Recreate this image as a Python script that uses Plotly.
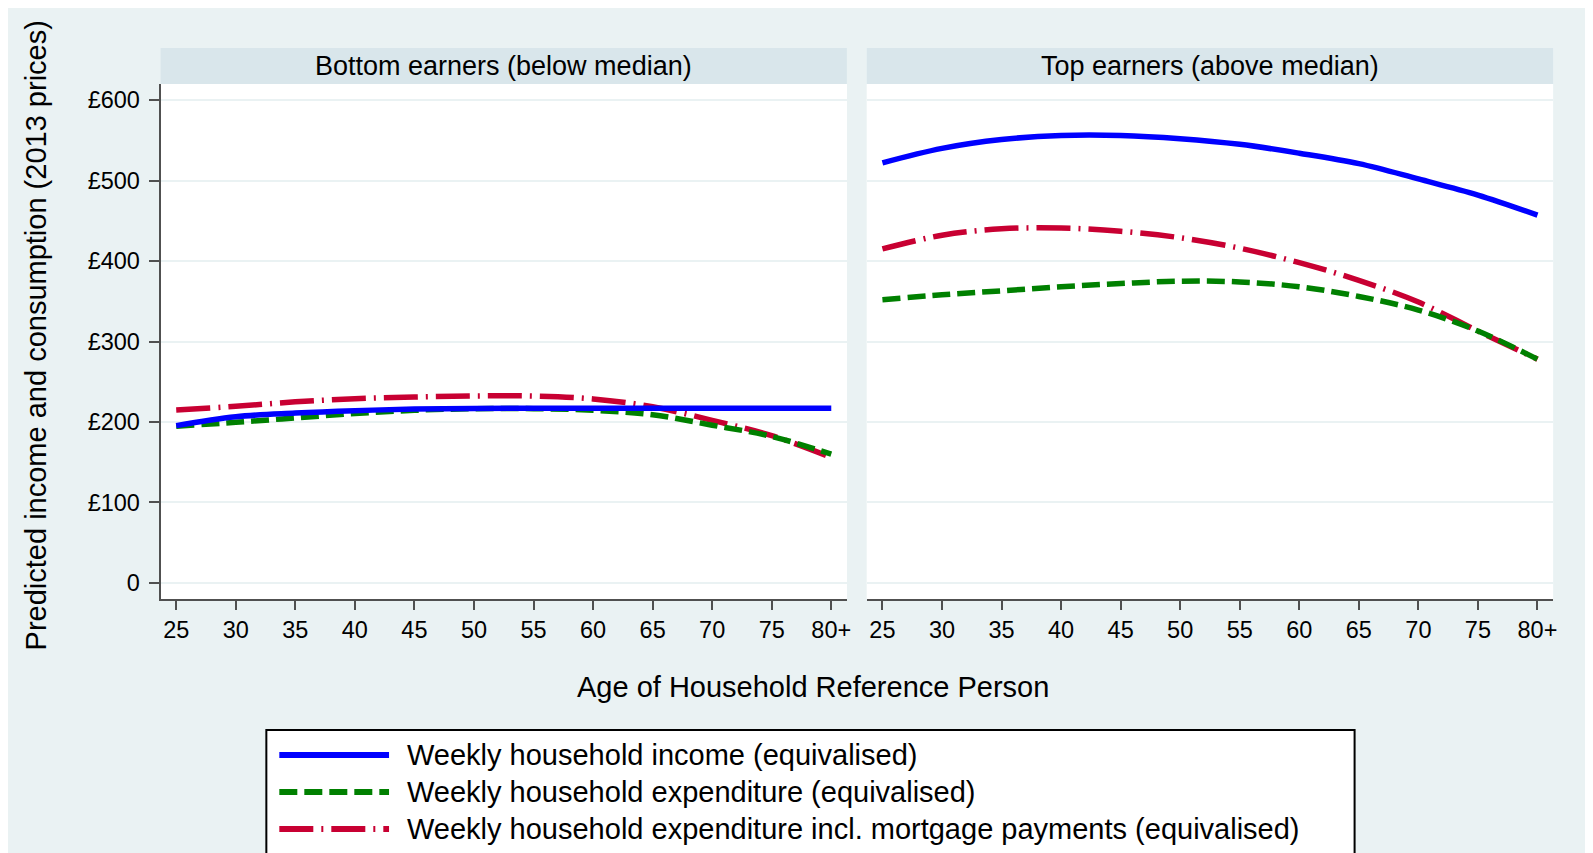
import plotly.graph_objects as go

# ---------------- data ----------------
ages = [25, 30, 35, 40, 45, 50, 55, 60, 65, 70, 75, 80]
age_labels = ["25", "30", "35", "40", "45", "50", "55", "60", "65", "70", "75", "80+"]
panel_titles = ["Bottom earners (below median)", "Top earners (above median)"]
series_names = [
    "Weekly household income (equivalised)",
    "Weekly household expenditure (equivalised)",
    "Weekly household expenditure incl. mortgage payments (equivalised)",
]
y_tickvals = [0, 100, 200, 300, 400, 500, 600]
y_ticktext = ["0", "£100", "£200", "£300", "£400", "£500", "£600"]

bottom_income = [195.5, 206.5, 211, 214, 216, 216.8, 217, 217, 217, 217, 217, 217]
bottom_expenditure = [194.6, 199.6, 205, 210.5, 214.5, 216.5, 216.5, 214.5, 209, 196, 182, 160]
bottom_exp_mortgage = [215, 219.5, 225, 229, 231, 232.3, 232.3, 228.6, 219, 202, 183, 156]

top_income = [522, 540, 551, 556, 556, 552, 545, 534, 521, 502, 482, 457]
top_expenditure = [352, 358, 363, 368, 372, 375, 374, 368, 356, 339, 313, 278]
top_exp_mortgage = [415, 432, 440, 441, 437, 429, 416, 398, 376, 349, 313, 278]

# ---------------- style ----------------
PAGE_W, PAGE_H = 1593, 853
OFF = 8  # default page body margin
W, H = PAGE_W - OFF, PAGE_H - OFF
FONT = "Liberation Sans, Arial, sans-serif"
BG = "#EAF2F3"
STRIP = "#D9E6EB"
AXIS = "#505050"
colors = ["#0000FF", "#008000", "#C80032"]
dashes = ["solid", "18px,7px", "34px,8px,2px,8px"]


def px(x):
    """page pixel x -> paper fraction"""
    return (x - OFF) / W


def py(y):
    """page pixel y -> paper fraction"""
    return 1 - (y - OFF) / H


xdom1 = [px(161), px(849)]
xdom2 = [px(869), px(1557)]
ydom = [py(599), py(84)]

fig = go.Figure()

panel_data = [
    (bottom_income, bottom_expenditure, bottom_exp_mortgage),
    (top_income, top_expenditure, top_exp_mortgage),
]
for p, series in enumerate(panel_data):
    xa = "x" if p == 0 else "x2"
    ya = "y" if p == 0 else "y2"
    for k in [2, 1, 0]:
        fig.add_trace(go.Scatter(
            x=ages, y=series[k], mode="lines", name=series_names[k],
            line=dict(color=colors[k], width=5.5, dash=dashes[k], shape="spline", smoothing=1.0),
            xaxis=xa, yaxis=ya, showlegend=False, hoverinfo="skip",
        ))

xaxis_common = dict(
    range=[23.69, 81.31], tickmode="array", tickvals=ages, ticktext=age_labels,
    ticks="outside", ticklen=9, tickwidth=2, tickcolor=AXIS,
    showline=True, linecolor=AXIS, linewidth=2, showgrid=False, zeroline=False,
    tickfont=dict(family=FONT, size=23.5, color="black"), fixedrange=True,
)
yaxis_common = dict(
    range=[-20, 620], tickmode="array", tickvals=y_tickvals, ticktext=y_ticktext,
    showgrid=True, gridcolor=BG, gridwidth=2, zeroline=False, domain=ydom,
    fixedrange=True,
)

shapes = [
    # plot regions
    dict(type="rect", xref="paper", yref="paper", x0=xdom1[0], x1=xdom1[1], y0=ydom[0], y1=ydom[1],
         fillcolor="white", line=dict(width=0), layer="below"),
    dict(type="rect", xref="paper", yref="paper", x0=xdom2[0], x1=xdom2[1], y0=ydom[0], y1=ydom[1],
         fillcolor="white", line=dict(width=0), layer="below"),
    # strips
    dict(type="rect", xref="paper", yref="paper", x0=xdom1[0], x1=xdom1[1], y0=py(84), y1=py(48),
         fillcolor=STRIP, line=dict(width=0), layer="below"),
    dict(type="rect", xref="paper", yref="paper", x0=xdom2[0], x1=xdom2[1], y0=py(84), y1=py(48),
         fillcolor=STRIP, line=dict(width=0), layer="below"),
    # legend box
    dict(type="rect", xref="paper", yref="paper", x0=px(267), x1=px(1358), y0=py(870), y1=py(730),
         fillcolor="white", line=dict(width=2, color="black"), layer="below"),
]

annotations = []
for p, title in enumerate(panel_titles):
    dom = xdom1 if p == 0 else xdom2
    annotations.append(dict(
        text=title, xref="paper", yref="paper", x=(dom[0] + dom[1]) / 2, y=py(66),
        xanchor="center", yanchor="middle", showarrow=False,
        font=dict(family=FONT, size=27, color="black"),
    ))

annotations.append(dict(
    text="Age of Household Reference Person", xref="paper", yref="paper",
    x=px(815.5), y=py(687), xanchor="center", yanchor="middle", showarrow=False,
    font=dict(family=FONT, size=29, color="black"),
))
annotations.append(dict(
    text="Predicted income and consumption (2013 prices)", xref="paper", yref="paper",
    x=px(36.5), y=py(335), xanchor="center", yanchor="middle", showarrow=False, textangle=-90,
    font=dict(family=FONT, size=29, color="black"),
))

legend_rows = [755, 792, 829]
for k in range(3):
    shapes.append(dict(
        type="line", xref="paper", yref="paper", x0=px(280), x1=px(390),
        y0=py(legend_rows[k]), y1=py(legend_rows[k]),
        line=dict(color=colors[k], width=6, dash=dashes[k]), layer="above",
    ))
    annotations.append(dict(
        text=series_names[k], xref="paper", yref="paper", x=px(406), y=py(legend_rows[k]),
        xanchor="left", yanchor="middle", showarrow=False,
        font=dict(family=FONT, size=29, color="black"),
    ))

fig.update_layout(
    width=W, height=H, margin=dict(l=0, r=0, t=0, b=0),
    paper_bgcolor=BG, plot_bgcolor="white", showlegend=False,
    xaxis=dict(domain=xdom1, anchor="y", **xaxis_common),
    xaxis2=dict(domain=xdom2, anchor="y2", **xaxis_common),
    yaxis=dict(anchor="x", showticklabels=True, ticks="outside", ticklen=10, tickwidth=2,
               tickcolor=AXIS, showline=True, linecolor=AXIS, linewidth=2, ticklabelstandoff=4,
               tickfont=dict(family=FONT, size=23.5, color="black"), **yaxis_common),
    yaxis2=dict(anchor="x2", matches="y", showticklabels=False, ticks="", showline=False,
                **yaxis_common),
    shapes=shapes, annotations=annotations,
    font=dict(family=FONT, color="black"),
)

fig.write_html("out.html", config={"displayModeBar": False})
